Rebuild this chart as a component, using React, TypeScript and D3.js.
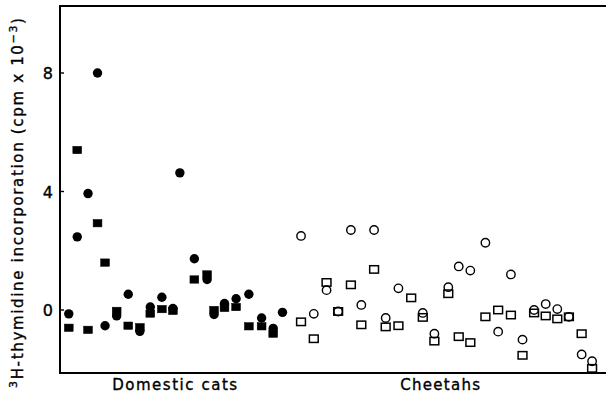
import * as d3 from "d3";

// sample position along the x axis, value in cpm x 10^-3
const catCircles: [number, number][] = [
  [0.67, -0.13], [1.4, 2.47], [2.33, 3.93], [3.15, 8.0], [3.8, -0.53],
  [4.8, -0.2], [5.8, 0.53], [6.8, -0.72], [7.7, 0.1], [8.7, 0.43],
  [9.65, 0.05], [10.25, 4.63], [11.5, 1.73], [12.6, 1.03], [13.2, -0.15],
  [14.1, 0.22], [15.1, 0.38], [16.2, 0.53], [17.3, -0.27], [18.3, -0.62],
  [19.1, -0.08],
];
const catSquares: [number, number][] = [
  [0.67, -0.6], [1.4, 5.4], [2.33, -0.67], [3.15, 2.93], [3.8, 1.6],
  [4.8, -0.03], [5.8, -0.53], [6.8, -0.58], [7.7, -0.12], [8.7, 0.03],
  [9.65, -0.03], [11.5, 1.03], [12.6, 1.2], [13.2, 0.0], [14.1, 0.07],
  [15.1, 0.1], [16.2, -0.55], [17.3, -0.55], [18.3, -0.8],
];
const cheetahCircles: [number, number][] = [
  [20.7, 2.5], [21.8, -0.13], [22.9, 0.67], [23.9, -0.05], [25.0, 2.7],
  [25.9, 0.17], [27.0, 2.7], [28.0, -0.27], [29.1, 0.73], [31.2, -0.1],
  [32.2, -0.8], [33.4, 0.77], [34.3, 1.47], [35.3, 1.33], [36.6, 2.27],
  [37.7, -0.73], [38.8, 1.2], [39.8, -1.0], [40.8, 0.0], [41.8, 0.2],
  [42.8, 0.03], [43.8, -0.23], [44.9, -1.5], [45.8, -1.73],
];
const cheetahSquares: [number, number][] = [
  [20.7, -0.4], [21.8, -0.97], [22.9, 0.93], [23.9, -0.05], [25.0, 0.85],
  [25.9, -0.5], [27.0, 1.37], [28.0, -0.57], [29.1, -0.53], [30.2, 0.41],
  [31.2, -0.25], [32.2, -1.05], [33.4, 0.55], [34.3, -0.9], [35.3, -1.1],
  [36.6, -0.23], [37.7, 0.0], [38.8, -0.17], [39.8, -1.53], [40.8, -0.1],
  [41.8, -0.2], [42.8, -0.3], [43.8, -0.23], [44.9, -0.8], [45.8, -1.97],
];
const yTicks = [0, 4, 8];
const groupLabels = ["Domestic cats", "Cheetahs"];

const W = 606;
const H = 400;
const left = 60;
const top = 6;
const bottom = 373;
const font = "'DejaVu Sans', Verdana, sans-serif";

const x = d3.scaleLinear().domain([0, 47]).range([61, 606]);
const y = d3.scaleLinear().domain([0, 8]).range([310, 73]);

// label centres along the axis, in sample positions
const labelPos = [9.8, 32.7];
const labelLen = [125, 80];

const App = () => {
  const sq = (d: [number, number], i: number, filled: boolean) => (
    <rect
      key={i}
      x={x(d[0]) - 4.4}
      y={y(d[1]) - 3.7}
      width={8.8}
      height={7.4}
      fill={filled ? "#000" : "none"}
      stroke="#000"
      strokeWidth={filled ? 0.5 : 1.5}
    />
  );
  const txt = { fontFamily: font, stroke: "#000", strokeWidth: 0.35 };
  return (
    <div style={{ position: "fixed", left: 0, top: 0 }}>
      <svg width={W} height={H} style={{ display: "block", background: "#fff" }}>
        <path
          d={`M${W},${top}H${left}V${bottom}H${W}`}
          fill="none"
          stroke="#000"
          strokeWidth={2}
        />
        {yTicks.map((t) => (
          <g key={t}>
            <line x1={left} x2={left + 4} y1={y(t)} y2={y(t)} stroke="#000" strokeWidth={1.4} />
            <text x={53} y={y(t) + 6} textAnchor="end" fontSize={16} {...txt}>
              {t}
            </text>
          </g>
        ))}
        <text
          transform="translate(23,388) rotate(-90)"
          fontSize={15}
          textLength={370}
          lengthAdjust="spacing"
          {...txt}
        >
          <tspan fontSize={11} dy={-6}>3</tspan>
          <tspan dy={6}>H-thymidine incorporation (cpm x 10</tspan>
          <tspan fontSize={11} dy={-6}>−3</tspan>
          <tspan dy={6}>)</tspan>
        </text>
        {groupLabels.map((g, i) => (
          <text
            key={g}
            x={x(labelPos[i])}
            y={390}
            textAnchor="middle"
            fontSize={15}
            textLength={labelLen[i]}
            lengthAdjust="spacing"
            {...txt}
          >
            {g}
          </text>
        ))}
        {catSquares.map((d, i) => sq(d, i, true))}
        {catCircles.map((d, i) => (
          <circle key={i} cx={x(d[0])} cy={y(d[1])} r={4.7} fill="#000" />
        ))}
        {cheetahSquares.map((d, i) => sq(d, i, false))}
        {cheetahCircles.map((d, i) => (
          <circle
            key={i}
            cx={x(d[0])}
            cy={y(d[1])}
            r={4.2}
            fill="none"
            stroke="#000"
            strokeWidth={1.4}
          />
        ))}
      </svg>
    </div>
  );
};

export default App;
